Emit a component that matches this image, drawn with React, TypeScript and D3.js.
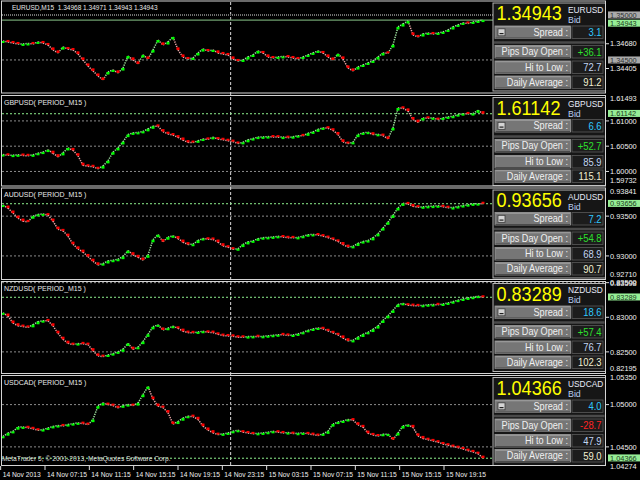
import React from 'react';
import * as d3 from 'd3';

// ---- closes (M15 chart, sampled about every 2 bars) ----
const eurusd = [1.34711,1.34700,1.34689,1.34678,1.34678,1.34683,1.34678,1.34700,1.34689,1.34667,
 1.34611,1.34578,1.34644,1.34622,1.34611,1.34567,1.34500,1.34433,1.34378,1.34322,
 1.34278,1.34367,1.34389,1.34356,1.34411,1.34544,1.34500,1.34456,1.34556,1.34511,
 1.34611,1.34722,1.34667,1.34700,1.34756,1.34611,1.34533,1.34511,1.34522,1.34578,
 1.34622,1.34600,1.34611,1.34578,1.34567,1.34556,1.34511,1.34489,1.34500,1.34533,
 1.34556,1.34600,1.34578,1.34533,1.34522,1.34533,1.34539,1.34533,1.34522,1.34511,
 1.34533,1.34556,1.34578,1.34600,1.34578,1.34533,1.34500,1.34567,1.34511,1.34411,
 1.34378,1.34422,1.34444,1.34467,1.34489,1.34533,1.34578,1.34574,1.34667,1.34867,
 1.34900,1.34933,1.34778,1.34756,1.34789,1.34800,1.34789,1.34800,1.34811,1.34833,
 1.34867,1.34889,1.34911,1.34906,1.34922,1.34933,1.34943];

const gbpusd = [1.60335,1.60320,1.60323,1.60329,1.60316,1.60310,1.60329,1.60359,1.60383,1.60428,
 1.60359,1.60290,1.60369,1.60467,1.60418,1.60310,1.60122,1.60103,1.60093,1.60053,
 1.60107,1.60211,1.60383,1.60467,1.60586,1.60730,1.60763,1.60773,1.60793,1.60842,
 1.60895,1.60892,1.60787,1.60744,1.60720,1.60675,1.60621,1.60576,1.60572,1.60606,
 1.60641,1.60635,1.60677,1.60641,1.60627,1.60608,1.60590,1.60554,1.60576,1.60625,
 1.60651,1.60679,1.60684,1.60690,1.60681,1.60679,1.60680,1.60669,1.60688,1.60708,
 1.60704,1.60755,1.60783,1.60832,1.60862,1.60856,1.60813,1.60730,1.60586,1.60552,
 1.60576,1.60730,1.60763,1.60777,1.60730,1.60735,1.60710,1.60645,1.60862,1.61256,
 1.61250,1.61197,1.61026,1.60974,1.61059,1.61052,1.61062,1.61026,1.61059,1.61079,
 1.61093,1.61124,1.61144,1.61139,1.61146,1.61211,1.61142];

const audusd = [0.93639,0.93601,0.93538,0.93475,0.93437,0.93428,0.93500,0.93521,0.93528,0.93513,
 0.93437,0.93336,0.93315,0.93248,0.93147,0.93088,0.93047,0.92992,0.92933,0.92887,
 0.92903,0.92937,0.92946,0.92958,0.92992,0.93066,0.93014,0.92984,0.92948,0.93009,
 0.93204,0.93267,0.93179,0.93236,0.93253,0.93218,0.93173,0.93144,0.93147,0.93194,
 0.93219,0.93210,0.93207,0.93173,0.93127,0.93110,0.93084,0.93090,0.93144,0.93176,
 0.93189,0.93217,0.93229,0.93233,0.93239,0.93246,0.93238,0.93228,0.93227,0.93233,
 0.93247,0.93266,0.93270,0.93263,0.93249,0.93231,0.93208,0.93183,0.93142,0.93112,
 0.93120,0.93157,0.93180,0.93193,0.93228,0.93278,0.93351,0.93424,0.93510,0.93603,
 0.93661,0.93654,0.93623,0.93613,0.93617,0.93623,0.93626,0.93630,0.93618,0.93606,
 0.93608,0.93621,0.93633,0.93644,0.93654,0.93657,0.93656];

const nzdusd = [0.83064,0.83017,0.82916,0.82877,0.82866,0.82854,0.82892,0.82936,0.82951,0.82948,
 0.82876,0.82769,0.82682,0.82624,0.82605,0.82620,0.82616,0.82605,0.82516,0.82442,
 0.82432,0.82455,0.82475,0.82500,0.82538,0.82623,0.82538,0.82566,0.82649,0.82754,
 0.82863,0.82890,0.82816,0.82841,0.82870,0.82841,0.82799,0.82779,0.82775,0.82788,
 0.82798,0.82783,0.82779,0.82754,0.82736,0.82730,0.82725,0.82712,0.82711,0.82721,
 0.82724,0.82719,0.82725,0.82733,0.82740,0.82747,0.82746,0.82738,0.82744,0.82759,
 0.82782,0.82811,0.82831,0.82845,0.82834,0.82805,0.82776,0.82747,0.82701,0.82660,
 0.82666,0.82712,0.82753,0.82782,0.82824,0.82874,0.82955,0.83022,0.83100,0.83184,
 0.83201,0.83175,0.83169,0.83165,0.83173,0.83181,0.83184,0.83180,0.83192,0.83207,
 0.83225,0.83247,0.83264,0.83279,0.83290,0.83305,0.83289];

const usdcad = [1.04625,1.04663,1.04683,1.04734,1.04736,1.04726,1.04714,1.04697,1.04705,1.04723,
 1.04742,1.04752,1.04748,1.04764,1.04775,1.04784,1.04775,1.04764,1.04823,1.04982,
 1.05019,1.05000,1.04988,1.04962,1.04988,1.05000,1.04988,1.05018,1.05118,1.05213,
 1.05065,1.04982,1.04965,1.04905,1.04770,1.04799,1.04840,1.04862,1.04858,1.04825,
 1.04746,1.04699,1.04667,1.04645,1.04654,1.04665,1.04684,1.04696,1.04674,1.04665,
 1.04654,1.04660,1.04665,1.04673,1.04684,1.04674,1.04665,1.04669,1.04657,1.04661,
 1.04665,1.04654,1.04645,1.04634,1.04654,1.04684,1.04770,1.04793,1.04806,1.04824,
 1.04817,1.04761,1.04734,1.04662,1.04642,1.04629,1.04649,1.04651,1.04586,1.04665,
 1.04747,1.04761,1.04731,1.04630,1.04599,1.04585,1.04571,1.04556,1.04535,1.04520,
 1.04504,1.04491,1.04476,1.04456,1.04441,1.04420,1.04366];

// ---- panel texts / info values ----
const symbols = ['EURUSD', 'GBPUSD', 'AUDUSD', 'NZDUSD', 'USDCAD'];
const titles = [
  'EURUSD,M15\u00a0\u00a01.34968 1.34971 1.34943 1.34943',
  'GBPUSD( PERIOD_M15 )',
  'AUDUSD( PERIOD_M15 )',
  'NZDUSD( PERIOD_M15 )',
  'USDCAD( PERIOD_M15 )',
];
const bids = ['1.34943', '1.61142', '0.93656', '0.83289', '1.04366'];
const spreads = ['3.1', '6.6', '7.2', '18.6', '4.0'];
const pipsDayOpen = ['+36.1', '+52.7', '+54.8', '+57.4', '-28.7'];
const hiToLow = ['72.7', '85.9', '68.9', '76.7', '47.9'];
const dailyAverage = ['91.2', '115.1', '90.7', '102.3', '59.0'];

// ---- price scales ----
const scaleMin = [1.34144, 1.59732, 0.92710, 0.82195, 1.04274];
const scaleMax = [1.35144, 1.61493, 0.93841, 0.83524, 1.05350];
const gridLevels = [[1.345], [1.61, 1.605, 1.6], [0.935, 0.93], [0.835, 0.83, 0.825], [1.05, 1.045]];
const hLineLevels = [[1.35], [], [], [], []];
// axis labels: kind 'tick' | 'edge' | 'box'
const axisLabels: { v: number; kind: string }[][] = [
  [{ v: 1.35, kind: 'box' }, { v: 1.3468, kind: 'tick' }, { v: 1.345, kind: 'box' }, { v: 1.34405, kind: 'tick' }],
  [{ v: 1.61493, kind: 'edge' }, { v: 1.61, kind: 'tick' }, { v: 1.605, kind: 'tick' }, { v: 1.6, kind: 'tick' }, { v: 1.59732, kind: 'edge' }],
  [{ v: 0.93841, kind: 'edge' }, { v: 0.935, kind: 'tick' }, { v: 0.93, kind: 'tick' }, { v: 0.9271, kind: 'edge' }],
  [{ v: 0.83598, kind: 'edge' }, { v: 0.835, kind: 'tick' }, { v: 0.83, kind: 'tick' }, { v: 0.825, kind: 'tick' }, { v: 0.82195, kind: 'edge' }],
  [{ v: 1.0535, kind: 'edge' }, { v: 1.05, kind: 'tick' }, { v: 1.045, kind: 'tick' }, { v: 1.04274, kind: 'edge' }],
];

// ---- time axis ----
const timeTicks = ['2013-11-14T03:15', '2013-11-14T07:15', '2013-11-14T11:15', '2013-11-14T15:15', '2013-11-14T19:15',
  '2013-11-14T23:15', '2013-11-15T03:15', '2013-11-15T07:15', '2013-11-15T11:15', '2013-11-15T15:15', '2013-11-15T19:15'];
const timeLabels = ['14 Nov 2013', '14 Nov 07:15', '14 Nov 11:15', '14 Nov 15:15', '14 Nov 19:15',
  '14 Nov 23:15', '15 Nov 03:15', '15 Nov 07:15', '15 Nov 11:15', '15 Nov 15:15', '15 Nov 19:15'];
const periodSeparator = '2013-11-15T00:00';

// ---- layout ----
const series = [eurusd, gbpusd, audusd, nzdusd, usdcad];
const frameTop = [1, 95.5, 188, 281.5, 375.5];
const frameBottom = [93, 186, 279.5, 373.5, 465.5];
const plotTop = [2, 96, 189, 281, 375];
const plotBottom = [92, 185, 279, 373, 466];
const rowTops = [[25, 44.5, 60, 75], [24, 44, 60, 74.5], [24.5, 44, 59.5, 74.5], [24.5, 44, 59.5, 74.5], [24.5, 43.5, 59, 74]];
const FRAME_L = 1.5;
const FRAME_R = 605.5;
const LABEL_GAP = 8.5;
const EDGE_TOP = 2.5;
const EDGE_BOTTOM = 4.5;
const FONT = "'Liberation Sans', Arial, Helvetica, sans-serif";

type NTProps = { x: number; y: number; size: number; fill: string; s?: number; anchor?: 'start' | 'end' | 'middle'; children: React.ReactNode };
function NT({ x, y, size, fill, s = 1, anchor = 'start', children }: NTProps) {
  return (
    <text transform={`translate(${x},${y}) scale(${s},1)`} fontSize={size} fill={fill}
      textAnchor={anchor} fontFamily={FONT}>{children}</text>
  );
}

function InfoBox({ k }: { k: number }) {
  const top = frameTop[k];
  const bx = 493, bw = 112.5;
  const rt = rowTops[k];
  const rows = [
    { label: 'Spread :', value: spreads[k], color: '#2fc8ff', icon: true },
    { label: 'Pips Day Open :', value: pipsDayOpen[k], color: pipsDayOpen[k].startsWith('-') ? '#ff2424' : '#2ee02e', icon: false },
    { label: 'Hi to Low :', value: hiToLow[k], color: '#c2d6f2', icon: false },
    { label: 'Daily Average :', value: dailyAverage[k], color: '#f2f0d2', icon: false },
  ];
  return (
    <g>
      <rect x={bx} y={top + 2} width={bw} height={88} fill="#161616" stroke="#b4b4b4" strokeWidth={1} />
      <NT x={496.5} y={top + 19} size={21} s={0.86} fill="#ffff00">{bids[k]}</NT>
      <NT x={568} y={top + 11.8} size={9} s={0.93} fill="#e6eaf8">{symbols[k]}</NT>
      <NT x={568} y={top + 21.8} size={9} s={0.98} fill="#b8cdf0">Bid</NT>
      <line x1={bx + 1} x2={bx + bw - 1} y1={top + rt[1] - 3} y2={top + rt[1] - 3} stroke="#4a4a4a" strokeWidth={2.5} />
      {rows.map((r, i) => {
        const ry = top + rt[i];
        return (
          <g key={i}>
            <rect x={495} y={ry} width={75.5} height={12.5} fill="#767676" stroke="#9c9c9c" strokeWidth={0.8} />
            <line x1={495.5} x2={570} y1={ry + 0.8} y2={ry + 0.8} stroke="#a8a8a8" strokeWidth={0.8} />
            <line x1={495.5} x2={570} y1={ry + 12} y2={ry + 12} stroke="#3c3c3c" strokeWidth={0.8} />
            {r.icon && (
              <g>
                <rect x={498} y={ry + 2.8} width={7} height={7} fill="#d4d4d4" stroke="#3a3a3a" strokeWidth={0.8} />
                <line x1={499.5} x2={503.5} y1={ry + 7.6} y2={ry + 7.6} stroke="#202020" strokeWidth={1.2} />
              </g>
            )}
            <NT x={568} y={ry + 9.8} size={10.5} s={0.87} fill="#f0f0f0" anchor="end">{r.label}</NT>
            <rect x={572} y={ry} width={31} height={12.5} fill="#1c1c1c" stroke="#5a5a5a" strokeWidth={0.8} />
            <NT x={601.5} y={ry + 10} size={10.5} s={0.9} fill={r.color} anchor="end">{r.value}</NT>
          </g>
        );
      })}
    </g>
  );
}

function Panel({ k, x }: { k: number; x: d3.ScaleLinear<number, number> }) {
  const y = d3.scaleLinear().domain([scaleMin[k], scaleMax[k]]).range([plotBottom[k], plotTop[k]]);
  const data = series[k];
  const bidV = +bids[k];
  const wicks = data.map((c, i) => {
    if (i === 0) return null;
    const o = data[i - 1];
    const up = c >= o;
    return (
      <line key={'w' + i} x1={x(i - 1)} y1={y(o)} x2={x(i)} y2={y(c)} stroke={up ? '#9ee09e' : '#eaa8a8'}
        strokeWidth={1.5} strokeDasharray="1.3 1.1" />
    );
  });
  const bodies = data.map((c, i) => {
    const o = i === 0 ? c : data[i - 1];
    const yo = y(o), yc = y(c);
    const up = c >= o;
    const d = Math.max(-2.6, Math.min(2.6, yo - yc));
    const h = Math.max(Math.abs(d), 2);
    const top = d >= 0 ? yc : yc - h;
    return <rect key={'b' + i} x={x(i) - 1.5} y={top} width={3} height={h} fill={up ? '#00ff00' : '#ff0000'} />;
  });

  // keep the bid box clear of a box label above it
  const boxYs = axisLabels[k].filter((a) => a.kind === 'box').map((a) => y(a.v));
  let bidY = y(bidV);
  boxYs.forEach((by) => {
    if (by < bidY && bidY - by < LABEL_GAP) bidY = by + LABEL_GAP;
  });

  return (
    <g>
      {gridLevels[k].map((v, i) => (
        <line key={'g' + i} x1={2} x2={FRAME_R} y1={y(v)} y2={y(v)} stroke="#8c8c8c" strokeWidth={1} strokeDasharray="2 2" />
      ))}
      {hLineLevels[k].map((v, i) => (
        <line key={'h' + i} x1={2} x2={FRAME_R} y1={y(v)} y2={y(v)} stroke="#707070" strokeWidth={2} strokeDasharray="1 1" />
      ))}
      {k === 0 ? (
        <line x1={2} x2={FRAME_R} y1={y(bidV)} y2={y(bidV)} stroke="#6e9e6e" strokeWidth={1.2} />
      ) : (
        <line x1={2} x2={FRAME_R} y1={y(bidV)} y2={y(bidV)} stroke="#8ef08e" strokeWidth={1} strokeDasharray="2 2" />
      )}
      {wicks}
      {bodies}
      <NT x={k === 0 ? 12 : 4} y={frameTop[k] + 9} size={7.6} s={k === 0 ? 0.86 : 0.92} fill="#e8e8e8">{titles[k]}</NT>
      <InfoBox k={k} />
      {/* right price axis */}
      {axisLabels[k].map((a, i) => {
        const raw = y(a.v);
        let yc = a.kind === 'edge' ? Math.max(plotTop[k] + EDGE_TOP, Math.min(plotBottom[k] - EDGE_BOTTOM, raw)) : raw;
        if (a.kind === 'edge' && yc > bidY && yc - bidY < LABEL_GAP) yc = bidY + LABEL_GAP;
        const txt = a.v.toFixed(5);
        return (
          <g key={'a' + i}>
            {a.kind === 'tick' && <line x1={606} x2={609} y1={yc} y2={yc} stroke="#e0e0e0" strokeWidth={1} />}
            {a.kind === 'box' && <rect x={608} y={yc - 3.5} width={32} height={7} fill="#aaaaaa" />}
            <NT x={610} y={yc + 2.7} size={7.4} fill={a.kind === 'box' ? '#303030' : '#f0f0f0'}>{txt}</NT>
          </g>
        );
      })}
      <rect x={608} y={bidY - 3.8} width={32} height={7} fill="#96ee96" />
      <NT x={610} y={bidY + 2.3} size={7.4} fill="#1c3a1c">{bids[k]}</NT>
    </g>
  );
}

export default function App() {
  const parse = d3.timeParse('%Y-%m-%dT%H:%M');
  const tickDates = timeTicks.map((s) => parse(s) as Date);
  const t = d3.scaleTime().domain([tickDates[1], tickDates[10]]).range([45, 444]);
  const x = d3.scaleLinear().domain([0, eurusd.length - 1]).range([3, 483]);
  const sepX = t(parse(periodSeparator) as Date);

  return (
    <div style={{ position: 'fixed', left: 0, top: 0, width: 640, height: 480, background: '#000' }}>
      <svg width={640} height={480} style={{ display: 'block' }}>
        <rect x={0} y={0} width={640} height={480} fill="#000" />
        {/* period separator */}
        <line x1={sepX} x2={sepX} y1={2} y2={465} stroke="#d8d8d8" strokeWidth={1} strokeDasharray="3 2" />
        {series.map((_, k) => (
          <Panel key={k} k={k} x={x} />
        ))}
        {/* panel frames */}
        {frameTop.map((ft, k) => (
          <rect key={'f' + k} x={FRAME_L} y={ft} width={FRAME_R - FRAME_L} height={frameBottom[k] - ft}
            fill="none" stroke="#d4d4d4" strokeWidth={1} />
        ))}
        <NT x={2} y={461} size={7.6} s={0.88} fill="#dcdcdc">MetaTrader 5, © 2001-2013, MetaQuotes Software Corp.</NT>
        {/* time axis */}
        {tickDates.map((d, i) => {
          const tx = t(d);
          return (
            <g key={'t' + i}>
              <line x1={tx} x2={tx} y1={466} y2={470} stroke="#e0e0e0" strokeWidth={1} />
              <NT x={tx + 2} y={476.5} size={7.8} s={0.86} fill="#f0f0f0">{timeLabels[i]}</NT>
            </g>
          );
        })}
      </svg>
    </div>
  );
}
